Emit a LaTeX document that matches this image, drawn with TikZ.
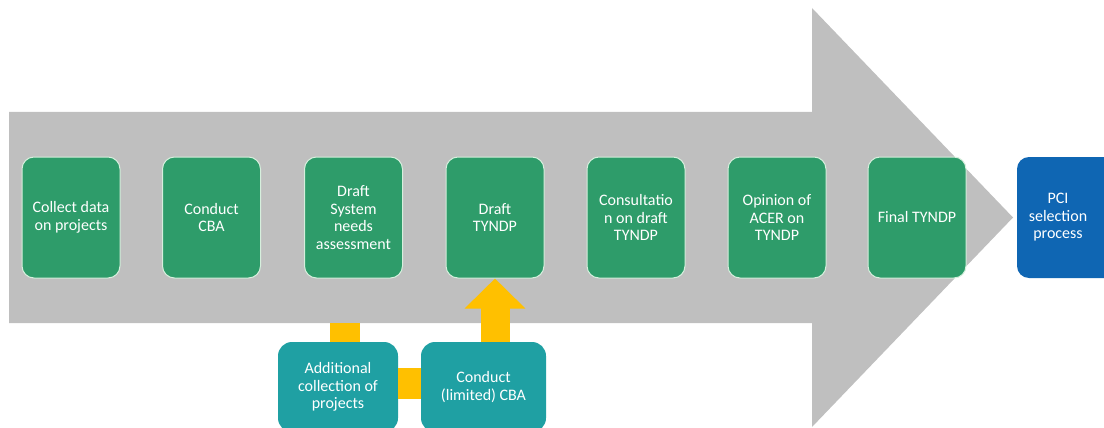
\documentclass[tikz,border=0pt]{standalone}
\usepackage{fontspec}
\setmainfont{Carlito}
\usetikzlibrary{arrows.meta}
\definecolor{arrowgray}{HTML}{BFBFBF}
\definecolor{boxgreen}{HTML}{2E9C6A}
\definecolor{edgegreen}{HTML}{D6EFDD}
\definecolor{boxblue}{HTML}{0F66B3}
\definecolor{boxteal}{HTML}{1FA0A3}
\definecolor{connorange}{HTML}{FFC000}
\begin{document}
\begin{tikzpicture}[x=1pt,y=-1pt,
  lbl/.style={text=white, align=center, font=\fontsize{16}{17.5}\selectfont, inner sep=1pt},
  greenbox/.style={lbl, rectangle, rounded corners=12pt, fill=boxgreen, draw=edgegreen, line width=1pt, minimum width=98pt, minimum height=121pt},
  bluebox/.style={rectangle, rounded corners=12pt, fill=boxblue, minimum width=100pt, minimum height=121pt, inner sep=0pt},
  tealbox/.style={lbl, rectangle, rounded corners=14pt, fill=boxteal, minimum height=90pt},
  conn/.style={draw=connorange}
]
\useasboundingbox (0,0) rectangle (1104,428);
\clip (0,0) rectangle (1104,428);
% big gray arrow
\fill[arrowgray] (9,112) -- (812,112) -- (812,8) -- (1013,217.5) -- (812,427) -- (812,323) -- (9,323) -- cycle;
\coordinate (shaftbot) at (345,323);
% green steps
\node[greenbox] (s1) at (71,217.5) {Collect data\\on projects};
\node[greenbox] (s2) at (211.5,217.5) {Conduct\\CBA};
\node[greenbox] (s3) at (353.5,217.5) {Draft\\System\\needs\\assessment};
\node[greenbox] (s4) at (495,217.5) {Draft\\TYNDP};
\node[greenbox] (s5) at (636,217.5) {Consultatio\\n on draft\\TYNDP};
\node[greenbox] (s6) at (777,217.5) {Opinion of\\ACER on\\TYNDP};
\node[greenbox] (s7) at (917,217.5) {Final TYNDP};
% PCI box
\node[bluebox] (pci) at (1067,217.5) {};
\node[lbl] (pcitext) at (1058,217.5) {PCI\\selection\\process};
% teal boxes
\node[tealbox, minimum width=120pt] (add) at (338,387) {Additional\\collection of\\projects};
\node[tealbox, minimum width=125pt] (cbal) at (483.5,387) {Conduct\\(limited) CBA};
% orange connectors
\draw[conn, line width=30pt] (add.north -| shaftbot) -- (shaftbot);
\draw[conn, line width=31pt] ([yshift=3.5pt]add.east) -- ([yshift=3.5pt]cbal.west);
\draw[conn, line width=29pt, -{Triangle[length=30pt,width=59pt]}, connorange] (cbal.north -| s4.south) -- (s4.south);
\end{tikzpicture}
\end{document}
